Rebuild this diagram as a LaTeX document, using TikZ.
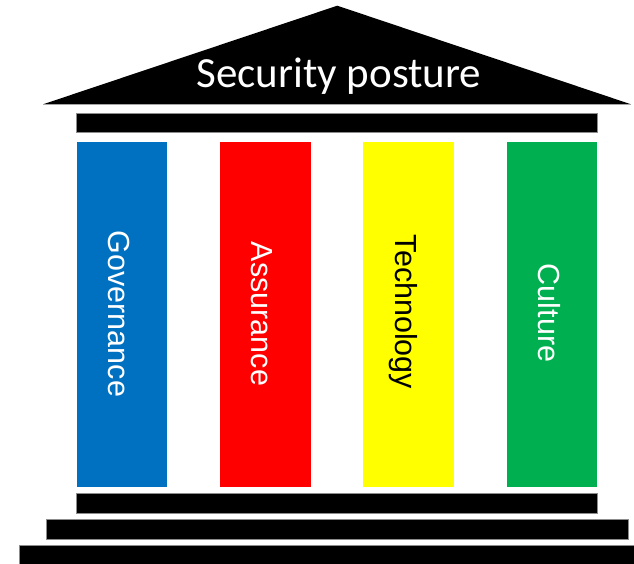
\documentclass[tikz,border=0pt]{standalone}
\usepackage{fontspec}
\setmainfont{Liberation Sans}
\newfontfamily\titlefont{Carlito}
\definecolor{pblue}{HTML}{0070C0}
\definecolor{pred}{HTML}{FF0000}
\definecolor{pyellow}{HTML}{FFFF00}
\definecolor{pgreen}{HTML}{00B050}
\definecolor{edgegray}{HTML}{8C8C8C}
\begin{document}
\begin{tikzpicture}[x=1pt,y=-1pt,
  slab/.style={fill=black,draw=edgegray,line width=0.6pt,inner sep=0pt,outer sep=0pt},
  pillar/.style={draw=none,inner sep=0pt,outer sep=0pt,minimum width=90.7pt,minimum height=345pt},
  pillarlabel/.style={rotate=-90,anchor=base,inner sep=0pt,font=\fontsize{30.5}{36}\selectfont},
  titlelabel/.style={anchor=base,inner sep=0pt,text=white,font=\titlefont\fontsize{43}{50}\selectfont}]
\useasboundingbox (0,0) rectangle (634,564);
\clip (0,0) rectangle (634,564);
% roof
\coordinate (apex) at (337.3,5.7);
\coordinate (eaveL) at (43,104.3);
\coordinate (eaveR) at (631,104.3);
\fill[black] (eaveL) -- (apex) -- (eaveR) -- cycle;
\node[titlelabel] (title) at (339,88) {Security posture};
% entablature
\node[slab,minimum width=520.6pt,minimum height=19pt] (beam) at (337,122.8) {};
% pillars
\node[pillar,fill=pblue]   (gov)  at (122.0,314.2) {};
\node[pillar,fill=pred]    (ass)  at (265.4,314.2) {};
\node[pillar,fill=pyellow] (tech) at (408.8,314.2) {};
\node[pillar,fill=pgreen]  (cul)  at (552.0,314.2) {};
\node[pillarlabel,text=white] (govt)  at (108.2,314) {Governance};
\node[pillarlabel,text=white] (asst)  at (251.6,314) {Assurance};
\node[pillarlabel,text=black] (techt) at (395.0,312) {Technology};
\node[pillarlabel,text=white] (cult)  at (538.2,313) {Culture};
% steps
\node[slab,minimum width=520.6pt,minimum height=19.7pt] (step1) at (337,503.2) {};
\node[slab,minimum width=581.6pt,minimum height=19.7pt] (step2) at (337.5,529.2) {};
\node[slab,minimum width=630pt,minimum height=26pt] (step3) at (334.3,558.3) {};
\end{tikzpicture}
\end{document}
